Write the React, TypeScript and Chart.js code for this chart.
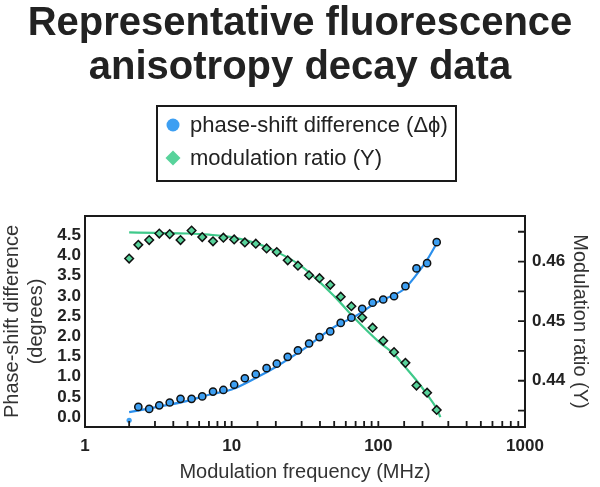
import React, { useEffect, useRef } from "react";
import { Chart, registerables } from "chart.js";

Chart.register(...registerables);

// Measured data (MHz)
const frequencies = [2.0, 2.31, 2.74, 3.21, 3.78, 4.48, 5.33, 6.3, 7.46, 8.78, 10.4, 12.3, 14.6, 17.3, 20.3, 24.1, 28.3, 33.7, 39.7, 47.0, 55.4, 65.5, 77.6, 91.4, 108, 128, 153, 182, 215, 250];
const phaseShift = [-0.08, 0.25, 0.2, 0.29, 0.36, 0.45, 0.45, 0.51, 0.63, 0.67, 0.8, 0.96, 1.06, 1.21, 1.32, 1.49, 1.65, 1.82, 1.98, 2.12, 2.33, 2.46, 2.68, 2.83, 2.91, 2.99, 3.24, 3.68, 3.81, 4.33];
const modRatio = [0.4605, 0.4628, 0.4636, 0.4647, 0.4646, 0.4636, 0.4652, 0.4641, 0.4634, 0.464, 0.4637, 0.4632, 0.463, 0.4622, 0.4616, 0.4602, 0.4593, 0.4577, 0.4572, 0.4561, 0.4541, 0.4525, 0.4506, 0.4489, 0.4467, 0.4448, 0.443, 0.4392, 0.438, 0.4351];

// Fitted curves
const phaseFitFreq = [2, 3, 5, 7, 10, 15, 20, 30, 50, 70, 100, 130, 150, 180, 215, 250];
const phaseFit = [0.12, 0.24, 0.4, 0.55, 0.68, 0.99, 1.24, 1.65, 2.23, 2.5, 2.86, 3.03, 3.17, 3.5, 3.89, 4.3];
const modFitFreq = [2, 3, 5, 7, 10, 15, 20, 30, 50, 70, 100, 130, 150, 180, 215, 250, 265];
const modFit = [0.4649, 0.4648, 0.4647, 0.4645, 0.4641, 0.463, 0.4617, 0.4592, 0.4542, 0.4503, 0.4466, 0.4443, 0.4425, 0.4402, 0.4377, 0.4353, 0.4339];

const xTickLabels = ["1", "10", "100", "1000"];

const titleLines = ["Representative fluorescence", "anisotropy decay data"];
const legendLabels = ["phase-shift difference (\u0394\u03d5)", "modulation ratio (Y)"];

const BLUE = "#3d9ff2";
const GREEN = "#58d39b";
const BLUE_LINE = "#2b8fec";
const GREEN_LINE = "#3fc98a";
const FONT = "'Liberation Sans', Arial, Helvetica, sans-serif";

const framePlugin = {
  id: "frameAndLegend",
  afterDraw(chart: any) {
    const { ctx, chartArea: a, scales } = chart;
    ctx.save();
    ctx.strokeStyle = "#1a1a1a";
    ctx.lineWidth = 1.8;
    ctx.beginPath();
    for (const t of scales.x.ticks) {
      const px = scales.x.getPixelForValue(t.value);
      ctx.moveTo(px, a.bottom);
      ctx.lineTo(px, a.bottom - 6);
    }
    for (const t of scales.y1.ticks) {
      const py = scales.y1.getPixelForValue(t.value);
      ctx.moveTo(a.right, py);
      ctx.lineTo(a.right - 7, py);
    }
    ctx.stroke();
    ctx.lineWidth = 2;
    ctx.strokeRect(a.left, a.top, a.right - a.left, a.bottom - a.top);

    // boxed legend
    const bx = 157, by = 106, bw = 299, bh = 75;
    ctx.strokeRect(bx, by, bw, bh);
    const rows = [125, 158];
    ctx.font = `22px ${FONT}`;
    ctx.textBaseline = "middle";
    ctx.textAlign = "left";
    legendLabels.forEach((lab, i) => {
      const y = rows[i];
      const mx = 173;
      ctx.fillStyle = i === 0 ? BLUE : GREEN;
      ctx.beginPath();
      if (i === 0) {
        ctx.arc(mx, y, 6.5, 0, Math.PI * 2);
      } else {
        ctx.moveTo(mx, y - 7.5);
        ctx.lineTo(mx + 7.5, y);
        ctx.lineTo(mx, y + 7.5);
        ctx.lineTo(mx - 7.5, y);
        ctx.closePath();
      }
      ctx.fill();
      ctx.fillStyle = "#222";
      ctx.fillText(lab, 190, y + 1);
    });
    ctx.restore();
  },
};

export default function App() {
  const ref = useRef<HTMLCanvasElement | null>(null);

  useEffect(() => {
    document.body.style.margin = "0";
    if (!ref.current) return;
    const chart = new Chart(ref.current, {
      type: "scatter",
      data: {
        datasets: [
          {
            label: legendLabels[0],
            data: frequencies.map((f, i) => ({ x: f, y: phaseShift[i] })),
            yAxisID: "y",
            backgroundColor: BLUE,
            borderColor: "#111",
            pointBackgroundColor: BLUE,
            pointBorderColor: "#111",
            pointBorderWidth: (c: any) => (c.dataIndex === 0 ? 0 : 1.5),
            pointRadius: (c: any) => (c.dataIndex === 0 ? 2.6 : 3.6),
            pointStyle: "circle",
            order: 1,
          },
          {
            label: legendLabels[1],
            data: frequencies.map((f, i) => ({ x: f, y: modRatio[i] })),
            yAxisID: "y1",
            backgroundColor: GREEN,
            borderColor: "#111",
            pointBackgroundColor: GREEN,
            pointBorderColor: "#111",
            pointBorderWidth: 1.5,
            pointRadius: 4.3,
            pointStyle: "rectRot",
            order: 0,
          },
          {
            label: "phase fit",
            data: phaseFitFreq.map((f, i) => ({ x: f, y: phaseFit[i] })),
            yAxisID: "y",
            showLine: true,
            borderColor: BLUE_LINE,
            borderWidth: 2.2,
            pointRadius: 0,
            cubicInterpolationMode: "monotone",
            order: 3,
          },
          {
            label: "modulation fit",
            data: modFitFreq.map((f, i) => ({ x: f, y: modFit[i] })),
            yAxisID: "y1",
            showLine: true,
            borderColor: GREEN_LINE,
            borderWidth: 2.2,
            pointRadius: 0,
            cubicInterpolationMode: "monotone",
            order: 2,
          },
        ],
      },
      options: {
        animation: false,
        responsive: false,
        layout: { padding: 0 },
        plugins: {
          legend: { display: false },
          tooltip: { enabled: false },
          title: {
            display: true,
            text: titleLines,
            color: "#222",
            font: { family: FONT, size: 40, weight: "bold", lineHeight: 1.1 },
            padding: { top: 2, bottom: 126 },
          },
        },
        scales: {
          x: {
            type: "logarithmic",
            position: "bottom",
            min: 1,
            max: 1000,
            grid: { display: false, drawTicks: false },
            border: { display: false },
            ticks: {
              autoSkip: false,
              maxRotation: 0,
              padding: 9,
              color: "#222",
              font: { family: FONT, size: 17, weight: "bold" },
              callback: (v: any) => {
                const l = Math.log10(Number(v));
                const r = Math.round(l);
                return Math.abs(l - r) < 1e-9 ? xTickLabels[r] ?? "" : "";
              },
            },
            title: {
              display: true,
              text: "Modulation frequency (MHz)",
              color: "#333",
              font: { family: FONT, size: 20 },
              padding: { top: 0, bottom: 3 },
            },
            afterFit: (s: any) => {
              s.height = 60;
            },
          },
          y: {
            type: "linear",
            position: "left",
            min: -0.247,
            max: 4.977,
            grid: { display: false, drawTicks: false },
            border: { display: false },
            ticks: {
              stepSize: 0.5,
              includeBounds: false,
              padding: 4,
              color: "#222",
              font: { family: FONT, size: 17, weight: "bold" },
              callback: (v: any) => Number(v).toFixed(1),
            },
            title: {
              display: true,
              text: ["Phase-shift difference", "(degrees)"],
              color: "#333",
              font: { family: FONT, size: 20 },
              padding: { top: 0, bottom: 0 },
            },
            afterFit: (s: any) => {
              s.width = 85;
            },
          },
          y1: {
            type: "linear",
            position: "right",
            min: 0.43224,
            max: 0.46764,
            grid: { display: false, drawTicks: false },
            border: { display: false },
            ticks: {
              stepSize: 0.005,
              includeBounds: false,
              padding: 7,
              color: "#222",
              font: { family: FONT, size: 17, weight: "bold" },
              callback: (v: any) => {
                const k = Math.round(Number(v) * 1000);
                return k % 10 === 0 ? (k / 1000).toFixed(2) : "";
              },
            },
            title: {
              display: true,
              text: "Modulation ratio (Y)",
              color: "#333",
              font: { family: FONT, size: 20 },
              padding: { top: 8, bottom: 0 },
            },
            afterFit: (s: any) => {
              s.width = 75;
            },
          },
        },
      },
      plugins: [framePlugin],
    } as any);
    return () => chart.destroy();
  }, []);

  return (
    <div style={{ width: 600, height: 487 }}>
      <canvas ref={ref} width={600} height={487} style={{ width: 600, height: 487, display: "block" }} />
    </div>
  );
}
